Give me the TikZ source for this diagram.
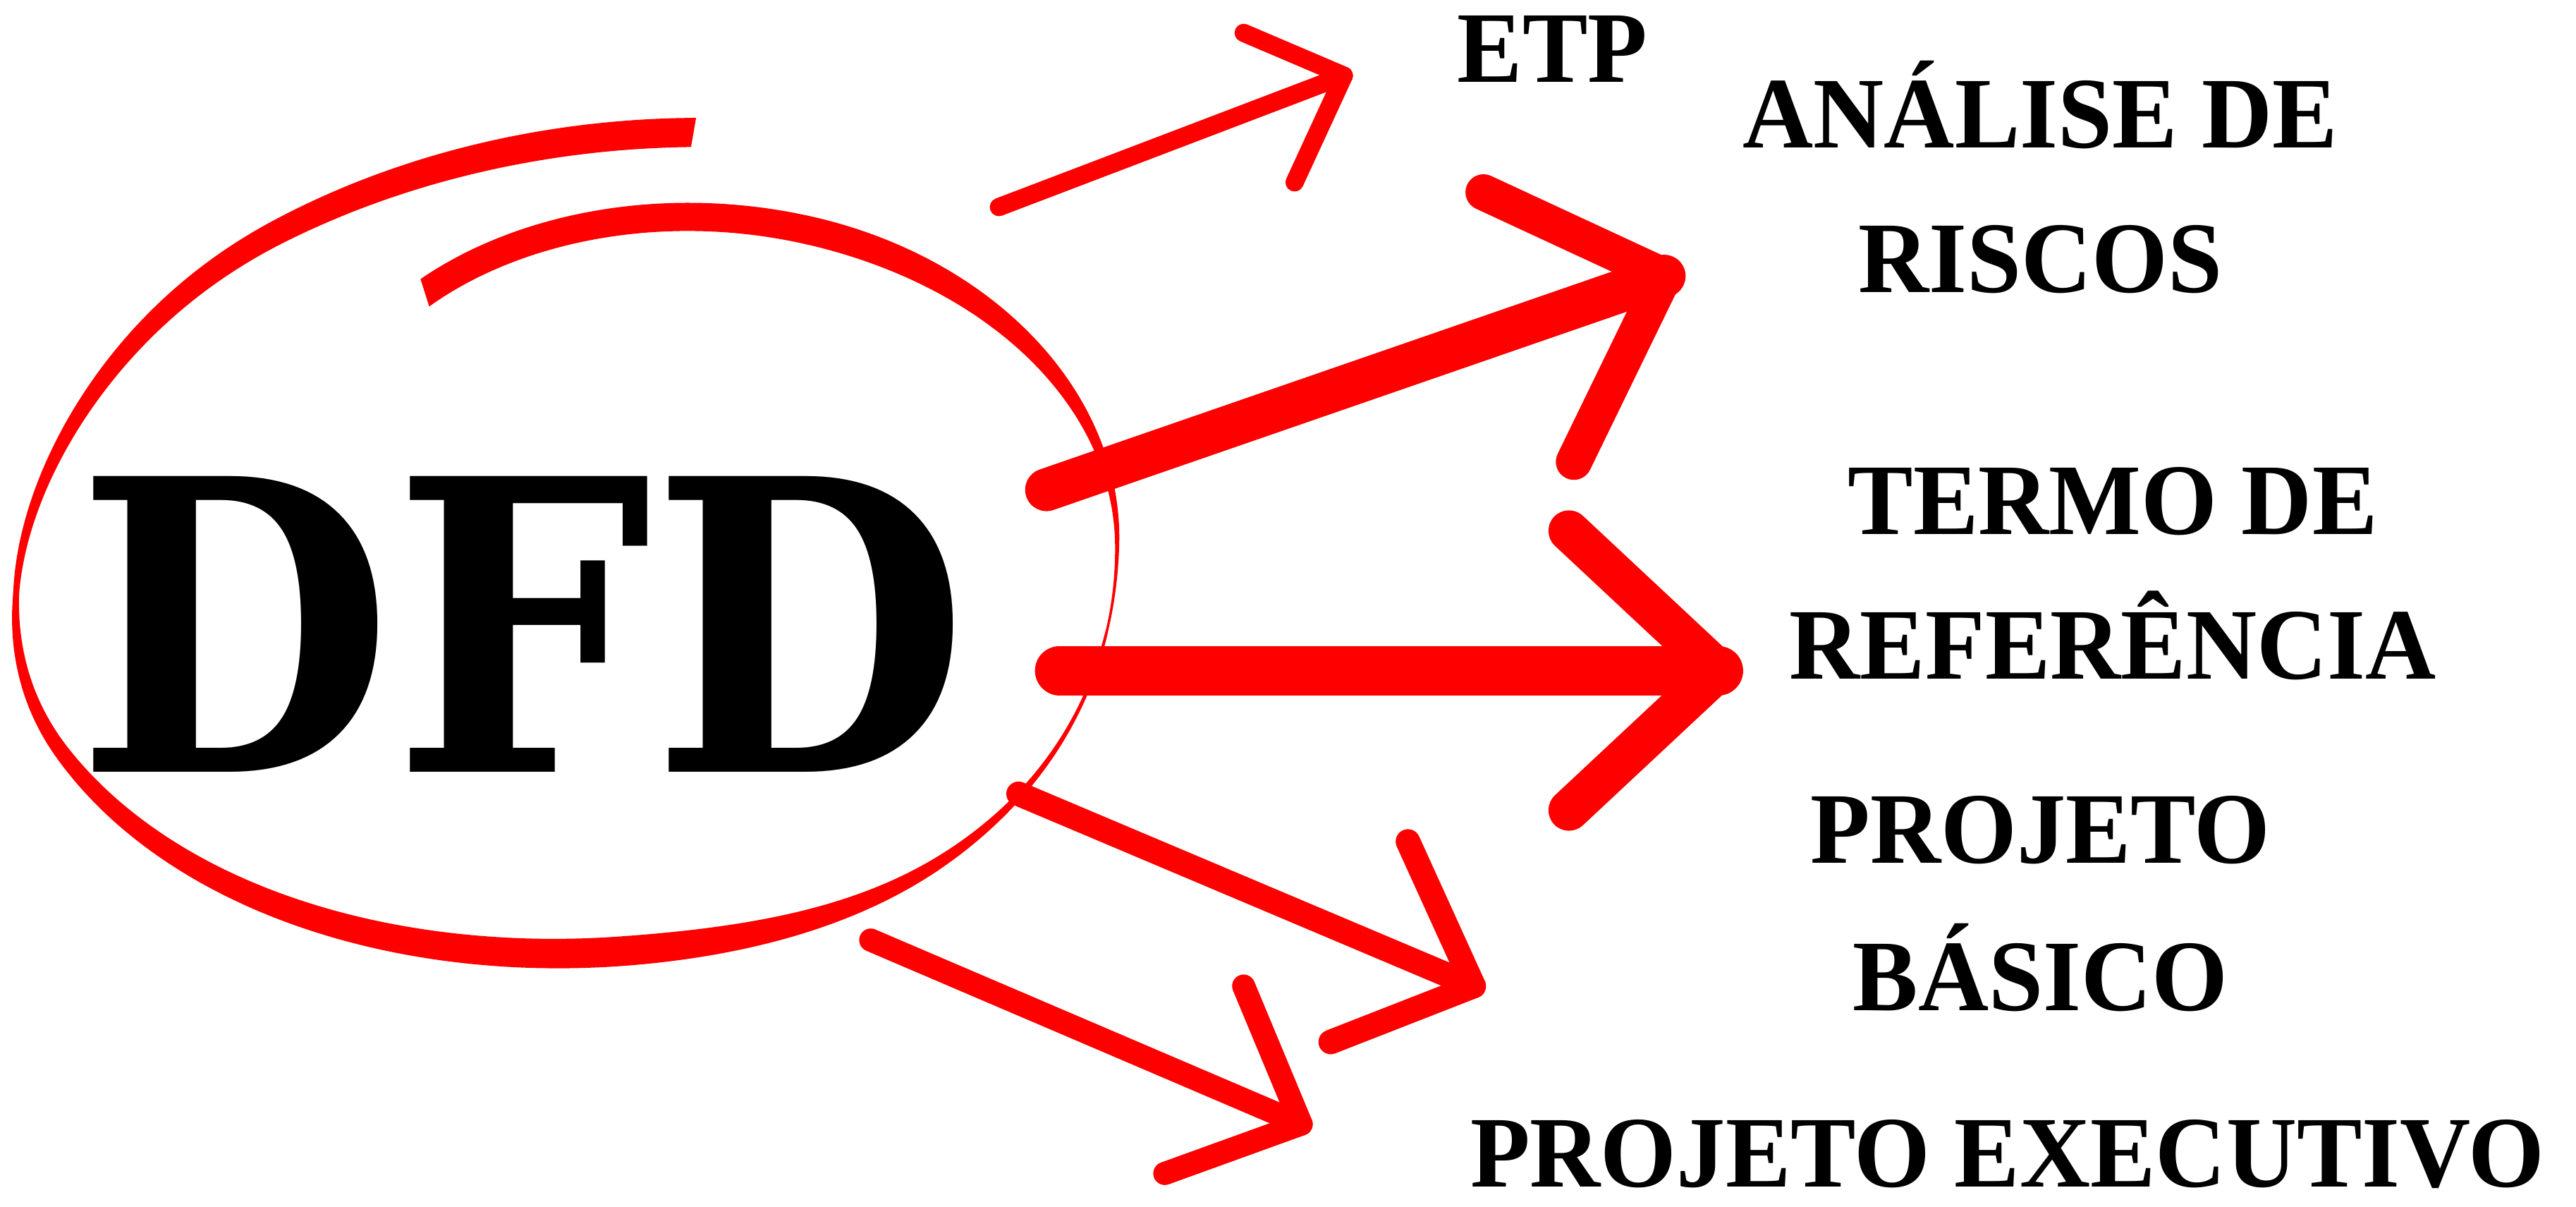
\documentclass[tikz,border=0pt]{standalone}
\usepackage{fontspec}
\setmainfont{Liberation Serif}
\newfontfamily\dfdfont{DejaVu Serif}
\usepackage{tikz}
\usetikzlibrary{positioning}

\begin{document}
\begin{tikzpicture}[x=0.02cm,y=-0.02cm,
  seta/.style={draw=red,line cap=round,line join=round},
  rotulo/.style={font=\bfseries\fontsize{35.1pt}{40pt}\selectfont,anchor=base,inner sep=0pt},
  declare function={
    suave(\u)=(1-cos(180*\u))/2;
    lacs(\t)=ifthenelse(\t<0,1-0.34*(-\t/113)*(-\t/113)*(1.6+0.6*\t/113),
      ifthenelse(\t<49,1.032-0.032*suave((49-\t)/49),
      ifthenelse(\t<85,1+0.032*suave((85-\t)/36),
      ifthenelse(\t<151,1.05-0.05*suave((151-\t)/66),
      ifthenelse(\t<235,0.92+0.13*suave(pow(max((235-\t)/84,0.001),1.6)),
      0.92+0.104*((\t-235)/48)*((\t-235)/48))))));
    lacw(\t)=ifthenelse(\t<-60,17.5,
      ifthenelse(\t<12,1.5+16*suave((12-\t)/72),
      ifthenelse(\t<85,1.5+16.5*exp(-min(((\t-85)/35)*((\t-85)/35),20)),
      ifthenelse(\t<173,3.7+14.3*sin(1.0227*(173-\t)),
      3.7+14.3*sin(0.8182*(\t-173))))));
    lacn(\t)=veclen(0.25*cos(\t),0.335*sin(\t));
    lacnx(\t)=0.25*cos(\t)/lacn(\t);
    lacny(\t)=0.335*sin(\t)/lacn(\t);
    lacox(\t)=345+335*lacs(\t)*cos(\t);
    lacoy(\t)=330+250*lacs(\t)*sin(\t);
  }]
\useasboundingbox (0,0) rectangle (1568,734);
% laco vermelho em volta do DFD
\fill[red] plot[domain=283:-113,samples=220,smooth] ({lacox(\x)+lacw(\x)/2*lacnx(\x)},{lacoy(\x)+lacw(\x)/2*lacny(\x)})
  -- plot[domain=-113:283,samples=220,smooth] ({lacox(\x)-lacw(\x)/2*lacnx(\x)},{lacoy(\x)-lacw(\x)/2*lacny(\x)})
  -- cycle;
% DFD
\node[font=\dfdfont\bfseries\fontsize{140.5pt}{150pt}\selectfont,anchor=base,inner sep=0pt] (dfd) at (318,470) {\scalebox{0.9}[1]{DFD}};
% rotulos
\node[rotulo] (etp) at (945,50) {\scalebox{0.965}[1]{ETP}};
\node[rotulo] (analise) at (1242,90) {\scalebox{0.965}[1]{ANÁLISE DE}};
\node[rotulo] (riscos) at (1242,178) {\scalebox{0.965}[1]{RISCOS}};
\node[rotulo] (termo) at (1286,325) {\scalebox{0.965}[1]{TERMO DE}};
\node[rotulo] (referencia) at (1286,413) {\scalebox{0.965}[1]{REFERÊNCIA}};
\node[rotulo] (projeto) at (1242,525) {\scalebox{0.965}[1]{PROJETO}};
\node[rotulo] (basico) at (1242,615) {\scalebox{0.965}[1]{BÁSICO}};
\node[rotulo] (executivo) at (1222,722) {\scalebox{0.965}[1]{PROJETO EXECUTIVO}};
% pontos das setas
\coordinate (etpS) at (608,126);
\coordinate (etpT) at (818,46);
\coordinate (etpA) at (757,20);
\coordinate (etpB) at (788,111);
\coordinate (risS) at (637,298);
\coordinate (risT) at (1013,168);
\coordinate (risA) at (903,117);
\coordinate (risB) at (958,281);
\coordinate (terS) at (645,408);
\coordinate (terT) at (1046,408);
\coordinate (terA) at (955,323);
\coordinate (terB) at (955,493);
\coordinate (basS) at (620,483);
\coordinate (basT) at (897,600);
\coordinate (basA) at (857,512);
\coordinate (basB) at (810,634);
\coordinate (exeS) at (530,572);
\coordinate (exeT) at (792,684);
\coordinate (exeA) at (757,600);
\coordinate (exeB) at (709,714);
% setas
\draw[seta,line width=6.3pt] (etpS) -- (etpT);
\draw[seta,line width=6.3pt] (etpA) -- (etpT) -- (etpB);
\draw[seta,line width=14.8pt] (risS) -- (risT);
\draw[seta,line width=12.5pt] (risA) -- (risT) -- (risB);
\draw[seta,line width=17.1pt] (terS) -- (terT);
\draw[seta,line width=14.2pt] (terA) -- (terT) -- (terB);
\draw[seta,line width=8.5pt] (basS) -- (basT);
\draw[seta,line width=8.5pt] (basA) -- (basT) -- (basB);
\draw[seta,line width=8pt] (exeS) -- (exeT);
\draw[seta,line width=8pt] (exeA) -- (exeT) -- (exeB);
\end{tikzpicture}
\end{document}
